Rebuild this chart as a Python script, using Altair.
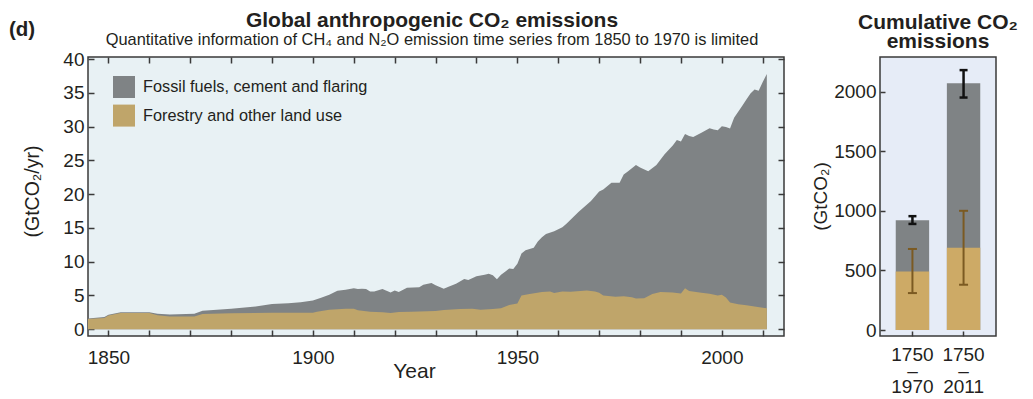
import altair as alt
import pandas as pd

# ---------------- data ----------------
total_years = [1845, 1849, 1850, 1853, 1860, 1862, 1865, 1871, 1873, 1880, 1886, 1890, 1894, 1897,
               1900, 1902, 1904, 1906, 1908, 1910, 1911, 1912, 1913, 1914, 1915, 1917, 1918, 1919,
               1920, 1921, 1923, 1926, 1927, 1929, 1930, 1932, 1933, 1935, 1937, 1938, 1940, 1942,
               1943, 1944, 1945, 1946, 1947, 1948, 1949, 1950, 1951, 1952, 1954, 1955, 1956, 1957,
               1959, 1961, 1962, 1965, 1968, 1970, 1971, 1973, 1975, 1976, 1977, 1979, 1980, 1982,
               1984, 1986, 1988, 1989, 1990, 1991, 1992, 1993, 1995, 1997, 1998, 1999, 2000, 2001,
               2002, 2003, 2005, 2006, 2007, 2008, 2009, 2010, 2011]
total_values = [1.6, 1.8, 2.15, 2.5, 2.5, 2.3, 2.2, 2.3, 2.75, 3.05, 3.35, 3.75, 3.85, 4.0,
                4.25, 4.65, 5.1, 5.7, 5.85, 6.05, 5.95, 6.0, 5.95, 5.6, 5.6, 5.95, 5.7, 5.45,
                5.75, 5.5, 6.15, 6.2, 6.6, 6.85, 6.5, 6.0, 6.25, 6.75, 7.45, 7.3, 7.85, 8.05,
                8.2, 8.0, 7.4, 8.05, 8.5, 9.0, 8.9, 9.7, 11.2, 11.7, 12.05, 13.0, 13.6, 14.1,
                14.5, 15.1, 15.6, 17.4, 19.0, 20.4, 20.7, 21.7, 21.7, 22.9, 23.35, 24.3, 23.95, 23.4,
                24.3, 25.9, 27.2, 28.0, 27.8, 28.9, 28.6, 28.45, 29.1, 29.75, 29.55, 29.45, 30.05, 29.95,
                29.7, 31.3, 33.1, 34.0, 34.9, 35.5, 35.3, 36.6, 37.8]

land_years = [1845, 1849, 1850, 1853, 1860, 1862, 1865, 1871, 1873, 1880, 1890, 1900, 1901, 1904,
              1908, 1910, 1911, 1914, 1917, 1919, 1921, 1924, 1930, 1932, 1936, 1939, 1941, 1944,
              1946, 1948, 1950, 1951, 1953, 1956, 1958, 1959, 1961, 1963, 1967, 1969, 1970, 1971,
              1974, 1976, 1978, 1979, 1981, 1983, 1985, 1988, 1990, 1991, 1992, 1995, 1997, 1999,
              2000, 2001, 2002, 2004, 2006, 2008, 2010, 2011]
land_values = [1.5, 1.67, 2.05, 2.4, 2.4, 2.06, 1.87, 1.87, 2.26, 2.36, 2.46, 2.45, 2.6, 2.9,
               3.05, 3.05, 2.8, 2.6, 2.5, 2.4, 2.56, 2.6, 2.7, 2.85, 3.0, 3.05, 2.9, 3.0,
               3.1, 3.6, 3.8, 5.0, 5.2, 5.5, 5.6, 5.35, 5.6, 5.55, 5.75, 5.6, 5.4, 5.0,
               4.8, 4.9, 4.75, 4.55, 4.6, 5.2, 5.5, 5.45, 5.3, 6.05, 5.65, 5.4, 5.26, 5.0,
               5.1, 4.7, 3.95, 3.7, 3.55, 3.35, 3.2, 3.1]

series_names = ["Fossil fuels, cement and flaring", "Forestry and other land use"]

periods = ["1750–1970", "1750–2011"]
cum_total = [920, 2070]
cum_land = [490, 690]
total_err_low = [890, 1950]
total_err_high = [955, 2180]
land_err_low = [310, 380]
land_err_high = [680, 1000]

x_ticks = list(range(1850, 2011, 10))
y_ticks = list(range(0, 41, 5))
cum_ticks = [0, 500, 1000, 1500, 2000]

# ---------------- styles ----------------
FONT = "Liberation Sans"
INK = "#231f20"
GRAY = "#7f8385"
TAN = "#bfa56a"
TAN2 = "#cdaa66"
BROWN = "#7b5a22"
FRAME = "#3a3a3a"

df_total = pd.DataFrame({"year": total_years, "value": total_values, "series": series_names[0]})
df_land = pd.DataFrame({"year": land_years, "value": land_values, "series": series_names[1]})

x_scale = alt.Scale(domain=[1845, 2015.2], nice=False, zero=False)
y_scale = alt.Scale(domain=[-1.0, 40.3], nice=False)
color_scale = alt.Scale(domain=series_names, range=[GRAY, TAN])

legend = alt.Legend(title=None, orient="none", legendX=25, legendY=19, padding=0,
                    symbolType="square", symbolSize=484, symbolStrokeWidth=0, symbolOpacity=1,
                    labelFont=FONT, labelFontSize=16.3, labelColor=INK, rowPadding=6.6,
                    labelOffset=8, labelLimit=400)

gray = alt.Chart(df_total).mark_area(opacity=1, interpolate="linear").encode(
    x=alt.X("year:Q", scale=x_scale,
            axis=alt.Axis(orient="bottom", values=x_ticks, offset=-6, tickSize=6, tickWidth=1.5,
                          tickColor=FRAME, domain=False, grid=False, format="d",
                          labelExpr="datum.value % 50 == 0 ? datum.label : ''",
                          labelFont=FONT, labelFontSize=19, labelColor=INK, labelPadding=12,
                          title="Year", titleFont=FONT, titleFontSize=21, titleFontWeight="normal",
                          titleColor=INK, titleX=326, titleY=47, titleBaseline="alphabetic")),
    y=alt.Y("value:Q", scale=y_scale, stack=None,
            axis=alt.Axis(orient="left", values=y_ticks, offset=-6, tickSize=6, tickWidth=1.5,
                          tickColor=FRAME, domain=False, grid=False,
                          labelFont=FONT, labelFontSize=19, labelColor=INK, labelPadding=4,
                          title="(GtCO₂/yr)", titleFont=FONT, titleFontSize=19.5,
                          titleFontWeight="normal", titleColor=INK, titleX=-62, titleY=134,
                          titleBaseline="middle", titleAngle=-90)),
    color=alt.Color("series:N", scale=color_scale, legend=legend),
)

tan = alt.Chart(df_land).mark_area(opacity=1, interpolate="linear").encode(
    x=alt.X("year:Q", scale=x_scale,
            axis=alt.Axis(orient="top", values=x_ticks, offset=-6, tickSize=6, tickWidth=1.5,
                          tickColor=FRAME, domain=False, grid=False, labels=False, title=None)),
    y=alt.Y("value:Q", scale=y_scale, stack=None,
            axis=alt.Axis(orient="right", values=y_ticks, offset=-6, tickSize=6, tickWidth=1.5,
                          tickColor=FRAME, domain=False, grid=False, labels=False, title=None)),
    color=alt.Color("series:N", scale=color_scale, legend=legend),
)

panel_label = alt.Chart(pd.DataFrame({"label": ["(d)"]})).mark_text(
    font=FONT, fontSize=20.5, fontWeight="bold", color=INK, align="left", baseline="alphabetic"
).encode(x=alt.value(-79), y=alt.value(-21), text="label:N")

left = alt.layer(gray, tan, panel_label).resolve_axis(x="independent", y="independent").properties(
    width=696, height=279,
    view=alt.ViewBackground(fill="#e8f1f4", stroke=FRAME, strokeWidth=1.5),
    title=alt.TitleParams(
        text="Global anthropogenic CO₂ emissions",
        subtitle="Quantitative information of CH₄ and N₂O emission time series from 1850 to 1970 is limited",
        anchor="middle", frame="group", font=FONT, fontSize=21, fontWeight="bold", color=INK,
        subtitleFont=FONT, subtitleFontSize=16.4, subtitleColor=INK, subtitlePadding=1.5,
        offset=-28.5, dx=-4),
)

# ---------------- right panel ----------------
df_cum = pd.DataFrame({"period": periods, "total": cum_total, "land": cum_land,
                       "tlo": total_err_low, "thi": total_err_high,
                       "llo": land_err_low, "lhi": land_err_high})

bx = alt.Scale(domain=periods, paddingInner=0.347, paddingOuter=0.308)
by = alt.Scale(domain=[-50, 2290], nice=False)

x_axis_r = alt.Axis(orient="bottom", offset=-5, tickSize=5, tickWidth=1.5, tickColor=FRAME,
                    domain=False, grid=False, labelAngle=0,
                    labelExpr="[substring(datum.label, 0, 4), '–', substring(datum.label, 5)]",
                    labelFont=FONT, labelFontSize=19, labelColor=INK, labelPadding=9,
                    labelLineHeight=16, title=None)
y_axis_r = alt.Axis(orient="left", values=cum_ticks, offset=-5, tickSize=5, tickWidth=1.5,
                    tickColor=FRAME, domain=False, grid=False, format="d",
                    labelFont=FONT, labelFontSize=19, labelColor=INK, labelPadding=4,
                    title="(GtCO₂)", titleFont=FONT, titleFontSize=19, titleFontWeight="normal",
                    titleColor=INK, titleX=-65, titleY=139, titleBaseline="middle", titleAngle=-90)

base = alt.Chart(df_cum).encode(x=alt.X("period:N", scale=bx, sort=periods, axis=x_axis_r))


def yenc(field):
    return alt.Y(f"{field}:Q", scale=by, axis=y_axis_r, title="(GtCO₂)")


bar_total = base.mark_bar(color=GRAY, opacity=1).encode(y=yenc("total"))
bar_land = base.mark_bar(color=TAN2, opacity=1).encode(y=yenc("land"))
err_total = base.mark_rule(color="#111111", strokeWidth=2.5).encode(y=yenc("tlo"), y2="thi:Q")
cap_total_lo = base.mark_tick(color="#111111", thickness=2.5, size=8, opacity=1).encode(y=yenc("tlo"))
cap_total_hi = base.mark_tick(color="#111111", thickness=2.5, size=8, opacity=1).encode(y=yenc("thi"))
err_land = base.mark_rule(color=BROWN, strokeWidth=2).encode(y=yenc("llo"), y2="lhi:Q")
cap_land_lo = base.mark_tick(color=BROWN, thickness=2, size=9, opacity=1).encode(y=yenc("llo"))
cap_land_hi = base.mark_tick(color=BROWN, thickness=2, size=9, opacity=1).encode(y=yenc("lhi"))

right = alt.layer(bar_total, bar_land, err_total, cap_total_lo, cap_total_hi,
                  err_land, cap_land_lo, cap_land_hi).properties(
    width=116, height=279,
    view=alt.ViewBackground(fill="#e6ecf7", stroke=FRAME, strokeWidth=1.5),
    title=alt.TitleParams(
        text=["Cumulative CO₂", "emissions"], anchor="middle", frame="group", font=FONT,
        fontSize=21, fontWeight="bold", color=INK, lineHeight=19, offset=5),
)

chart = alt.hconcat(left, right, spacing=24).resolve_scale(color="independent").properties(
    padding={"left": 0, "top": 0, "right": 0, "bottom": 0},
    background="white",
)

chart.save("out.html", embed_options={"renderer": "svg", "actions": False})
